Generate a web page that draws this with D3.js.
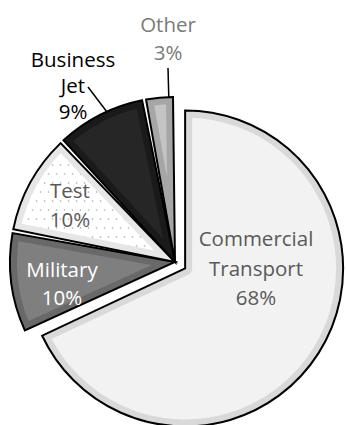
<!DOCTYPE html>
<html lang="en">
<head>
  <meta charset="UTF-8">
  <style>
    body { margin: 0; background: #fff; }
    svg { display: block; }
    .label { font-family: "Open Sans", sans-serif; font-size: 20.5px; text-anchor: middle; }
  </style>
</head>
<body>
  <script src="https://d3js.org/d3.v7.min.js"></script>
  <svg></svg>
  <script>

// data
const categories = ["Commercial Transport", "Military", "Test", "Business Jet", "Other"];
const values = [68, 10, 10, 9, 3];
const labelLines = [["Commercial", "Transport", "68%"], ["Military", "10%"], ["Test", "10%"], ["Business", "Jet", "9%"], ["Other", "3%"]];

// look
const fills = ["#f2f2f2", "#7f7f7f", "url(#dots)", "#262626", "#c4c4c4"];
const bands = ["#d9d9d9", "#696969", "#e6e6e6", "#1a1a1a", "#a6a6a6"];
const textColors = ["#595959", "#ffffff", "#595959", "#000000", "#7a7a7a"];

const w = 347, h = 425;
const cx = 175, cy = 262;   // pie centre
const r = 165;              // radius for the small slices
const rBig = 158;           // radius of the pulled out slice
const explode = [12, 0, 0, 0, 0];

// where the text blocks sit (centre x, first baseline)
const labelPos = [[256, 246], [62, 277], [70, 198], [73, 67], [168, 32]];
const lineGap = [29.5, 28, 29, 26, 28];
// leader lines: text end point, position inside slice (0..1)
const leaders = [null, null, null, [88, 87, 0.58], [168, 68, 0.8]];

const svg = d3.select("svg").attr("width", w).attr("height", h);

const defs = svg.append("defs");
const pat = defs.append("pattern")
  .attr("id", "dots")
  .attr("patternUnits", "userSpaceOnUse")
  .attr("width", 8).attr("height", 18);
pat.append("rect").attr("width", 8).attr("height", 18).attr("fill", "#fff");
pat.append("circle").attr("cx", 1.5).attr("cy", 2).attr("r", 0.8).attr("fill", "#a6a6a6");
pat.append("circle").attr("cx", 5.5).attr("cy", 11).attr("r", 0.8).attr("fill", "#a6a6a6");

const pie = d3.pie().sort(null).value(d => d);
const arcs = pie(values);

const arcSmall = d3.arc().innerRadius(0).outerRadius(r).padAngle(4 / r);
const arcBig = d3.arc().innerRadius(0).outerRadius(rBig);

function pathOf(d, i) { return i === 0 ? arcBig(d) : arcSmall(d); }
function offset(d, i) {
  const a = (d.startAngle + d.endAngle) / 2;
  return [cx + Math.sin(a) * explode[i], cy - Math.cos(a) * explode[i]];
}

const slices = svg.append("g").selectAll("g")
  .data(arcs)
  .join("g")
  .attr("transform", (d, i) => { const o = offset(d, i); return `translate(${o[0]},${o[1]})`; });

// clip to each slice so the inner band stays inside
slices.each(function(d, i) {
  defs.append("clipPath").attr("id", "clip" + i)
    .append("path").attr("d", pathOf(d, i));
});

slices.append("path")
  .attr("d", pathOf)
  .attr("fill", (d, i) => fills[i]);

slices.append("path")
  .attr("d", pathOf)
  .attr("fill", "none")
  .attr("stroke", (d, i) => bands[i])
  .attr("stroke-width", 14)
  .attr("stroke-linejoin", "round")
  .attr("clip-path", (d, i) => `url(#clip${i})`);

slices.append("path")
  .attr("d", pathOf)
  .attr("fill", "none")
  .attr("stroke", "#000")
  .attr("stroke-width", 2)
  .attr("stroke-linejoin", "miter");

// leader lines
arcs.forEach((d, i) => {
  if (!leaders[i]) return;
  const a = d.startAngle + (d.endAngle - d.startAngle) * leaders[i][2];
  const o = offset(d, i);
  svg.append("line")
    .attr("x1", leaders[i][0]).attr("y1", leaders[i][1])
    .attr("x2", o[0] + Math.sin(a) * r).attr("y2", o[1] - Math.cos(a) * r)
    .attr("stroke", "#000")
    .attr("stroke-width", 1.5);
});

// labels
labelLines.forEach((lines, i) => {
  const t = svg.append("text")
    .attr("class", "label")
    .attr("fill", textColors[i]);
  lines.forEach((s, k) => {
    t.append("tspan")
      .attr("x", labelPos[i][0])
      .attr("y", labelPos[i][1] + k * lineGap[i])
      .text(s);
  });
});

  </script>
</body>
</html>
